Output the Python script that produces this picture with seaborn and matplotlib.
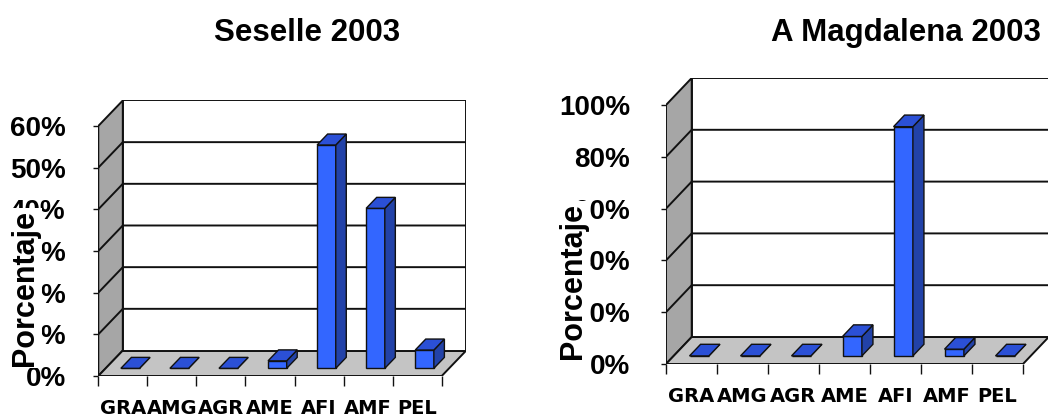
import numpy as np
import matplotlib
matplotlib.use("Agg")
import matplotlib.pyplot as plt
from matplotlib.patches import Polygon
import seaborn as sns

# ---- data -------------------------------------------------------------
categories = ["GRA", "AMG", "AGR", "AME", "AFI", "AMF", "PEL"]
seselle_pct = [0.0, 0.0, 0.0, 1.8, 53.6, 38.4, 4.4]
magdalena_pct = [0.0, 0.0, 0.0, 7.5, 88.5, 2.6, 0.0]
seselle_ticks = [0, 10, 20, 30, 40, 50, 60]
magdalena_ticks = [0, 20, 40, 60, 80, 100]
titles = ["Seselle 2003", "A Magdalena 2003"]
y_title = "Porcentaje"

# ---- style ------------------------------------------------------------
sns.set_theme(style="white")
plt.rcParams["font.family"] = ["Liberation Sans", "DejaVu Sans"]
for key in ("text.color", "axes.labelcolor", "xtick.color", "ytick.color"):
    plt.rcParams[key] = "black"

W, H = 1048, 416
fig = plt.figure(figsize=(W / 100, H / 100), dpi=100)

FRONT = "#3366ff"
TOP = "#2b50d6"
SIDE = "#2242a8"
WALL = "#a6a6a6"
FLOOR = "#c4c4c4"
LINE = "#111111"


def panel(values, ticks, title, front_left, cat_w, depth, y0, ppu,
          ylab_pad, title_xy, label_xy):
    """Draw one pseudo-3D column chart.

    front_left/cat_w/y0/ppu describe the front plane in pixels,
    depth is the (dx, dy) pixel offset of the back wall.
    """
    n = len(categories)
    vmax = ticks[-1]
    dx, dy = depth
    right = front_left + n * cat_w + dx
    top = y0 - vmax * ppu - dy
    ax = fig.add_axes([front_left / W, 1 - y0 / H,
                       (right - front_left) / W, (y0 - top) / H])
    ax.set_facecolor("none")

    # front faces of the columns
    sns.barplot(x=categories, y=values, ax=ax, color=FRONT, saturation=1,
                width=0.38, edgecolor=LINE, linewidth=1.0, zorder=3)
    bars = [p for p in ax.patches]

    dxu = dx / cat_w
    dyu = dy / ppu
    ax.set_xlim(-0.5, n - 0.5 + dxu)
    ax.set_ylim(0, vmax + dyu)

    # walls and floor
    lw = 1.4
    ax.add_patch(Polygon([(-0.5, 0), (-0.5 + dxu, dyu), (-0.5 + dxu, vmax + dyu),
                          (-0.5, vmax)], closed=True, fc=WALL, ec=LINE,
                         lw=lw, zorder=0.2))
    ax.add_patch(Polygon([(-0.5, 0), (n - 0.5, 0), (n - 0.5 + dxu, dyu),
                          (-0.5 + dxu, dyu)], closed=True, fc=FLOOR, ec=LINE,
                         lw=lw, zorder=0.2))
    ax.add_patch(Polygon([(-0.5 + dxu, dyu), (n - 0.5 + dxu, dyu),
                          (n - 0.5 + dxu, vmax + dyu), (-0.5 + dxu, vmax + dyu)],
                         closed=True, fc="white", ec=LINE, lw=lw, zorder=0.2))
    for v in ticks[1:-1]:
        ax.plot([-0.5, -0.5 + dxu, n - 0.5 + dxu], [v, v + dyu, v + dyu],
                color=LINE, lw=lw, zorder=0.3, solid_capstyle="butt")

    # push columns into the depth of the floor and add top / side faces
    f, bd = 0.30, 0.43
    bx, by = bd * dxu, bd * dyu
    for p in bars:
        x0 = p.get_x() + f * dxu
        b0 = f * dyu
        p.set_x(x0)
        p.set_y(b0)
        x1 = x0 + p.get_width()
        b1 = b0 + p.get_height()
        ax.add_patch(Polygon([(x1, b0), (x1 + bx, b0 + by), (x1 + bx, b1 + by),
                              (x1, b1)], closed=True, fc=SIDE, ec=LINE,
                             lw=1.0, zorder=3))
        ax.add_patch(Polygon([(x0, b1), (x1, b1), (x1 + bx, b1 + by),
                              (x0 + bx, b1 + by)], closed=True, fc=TOP, ec=LINE,
                             lw=1.0, zorder=3))

    for s in ax.spines.values():
        s.set_visible(False)

    # axes ticks and labels
    ax.set_yticks(ticks, labels=[f"{t}%" for t in ticks],
                  fontsize=20, fontweight="bold")
    ax.tick_params(axis="y", left=True, length=3.5, width=1.0, color=LINE,
                   direction="out", pad=ylab_pad)
    ax.set_xticks(range(n), labels=categories, fontsize=14,
                  fontweight="bold", fontfamily="DejaVu Sans")
    ax.set_xticks(np.arange(n + 1) - 0.5, minor=True)
    ax.tick_params(axis="x", which="major", bottom=True, length=0, pad=16.5)
    ax.tick_params(axis="x", which="minor", bottom=True, length=7, width=1.0,
                   color=LINE, direction="out")
    ax.set_xlabel("")

    ax.set_ylabel(y_title, fontsize=22, fontweight="bold",
                  bbox=dict(boxstyle="square,pad=0.08", fc="white", ec="none"))
    ax.yaxis.label.set_verticalalignment("center")
    aw, ah = right - front_left, y0 - top
    ax.yaxis.set_label_coords((label_xy[0] - front_left) / aw,
                              (y0 - label_xy[1]) / ah)

    ax.set_title(title, fontsize=22.5, fontweight="bold", pad=0,
                 x=(title_xy[0] - front_left) / aw,
                 y=(y0 - title_xy[1]) / ah)
    return ax


panel(seselle_pct, seselle_ticks, titles[0],
      front_left=98.3, cat_w=49.06, depth=(24.5, 25.5), y0=376, ppu=4.167,
      ylab_pad=20, title_xy=(307.5, 41), label_xy=(25, 288))
panel(magdalena_pct, magdalena_ticks, titles[1],
      front_left=666, cat_w=51.0, depth=(25.7, 27.0), y0=364, ppu=2.59,
      ylab_pad=22.5, title_xy=(906, 41), label_xy=(573, 281))

fig.savefig("out.png", dpi=100)
